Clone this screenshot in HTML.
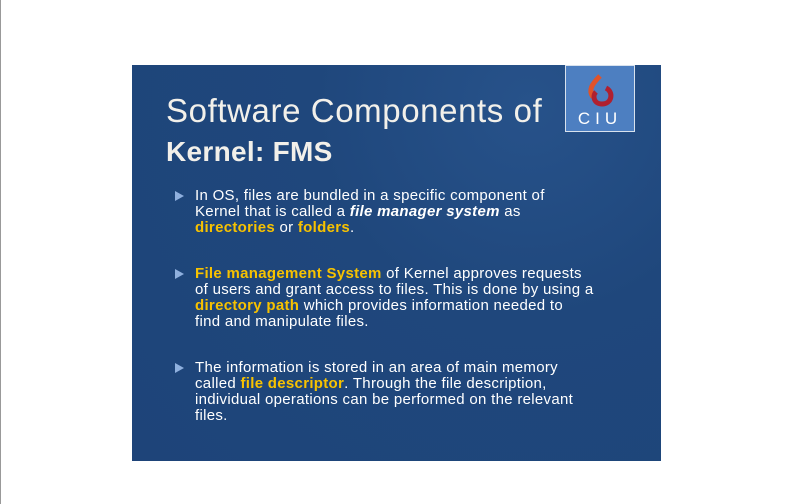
<!DOCTYPE html>
<html><head><style>
body{margin:0;width:792px;height:504px;background:#fff;position:relative;overflow:hidden;font-family:"Liberation Sans",sans-serif}
.lb{position:absolute;left:0;top:0;width:1px;height:504px;background:#999}
.s{position:absolute;left:132px;top:65px;width:529px;height:396px;background:radial-gradient(circle at 75% 10%,#27528a 0%,#1f477c 40%,#1e4479 100%)}
.t{position:absolute;left:166px;color:#f2f0ea;white-space:nowrap}
.p{position:absolute;left:195px;color:#fff;font-size:15px;letter-spacing:0.3px;line-height:16px;white-space:nowrap}
.a{position:absolute;left:-20px;top:3px;width:0;height:0;border-left:9px solid #8fb0de;border-top:5px solid transparent;border-bottom:5px solid transparent}
.y{color:#f7c200;font-weight:bold}
.logo{position:absolute;left:565px;top:65px;width:68px;height:65px;background:#4d7fc1;border:1px solid #d8e2ee}
</style></head><body>
<div class="lb"></div>
<div class="s"></div>
<div class="t" style="top:92px;font-size:33px;letter-spacing:0.6px">Software Components of</div>
<div class="t" style="top:136px;font-size:28px;font-weight:bold;letter-spacing:0.3px">Kernel: FMS</div>
<div class="logo">
<svg width="68" height="65" viewBox="0 0 68 65">
<path d="M34 10 C26 18 22 24 27 31" stroke="#e0532a" stroke-width="5" fill="none"/>
<path d="M40 22 C48 26 46 38 36 38 C28 38 26 30 30 26" stroke="#b02030" stroke-width="5" fill="none"/>
<text x="34" y="58" fill="#fff" font-size="17" text-anchor="middle" letter-spacing="5" font-family="Liberation Sans,sans-serif">CIU</text>
</svg></div>
<div class="p" style="top:188px"><span class="a"></span>In OS, files are bundled in a specific component of<br>Kernel that is called a <b><i>file manager system</i></b> as<br><span class="y">directories</span> or <span class="y">folders</span>.</div>
<div class="p" style="top:266px"><span class="a"></span><span class="y">File management System</span> of Kernel approves requests<br>of users and grant access to files. This is done by using a<br><span class="y">directory path</span> which provides information needed to<br>find and manipulate files.</div>
<div class="p" style="top:360px"><span class="a"></span>The information is stored in an area of main memory<br>called <span class="y">file descriptor</span>. Through the file description,<br>individual operations can be performed on the relevant<br>files.</div>
</body></html>
